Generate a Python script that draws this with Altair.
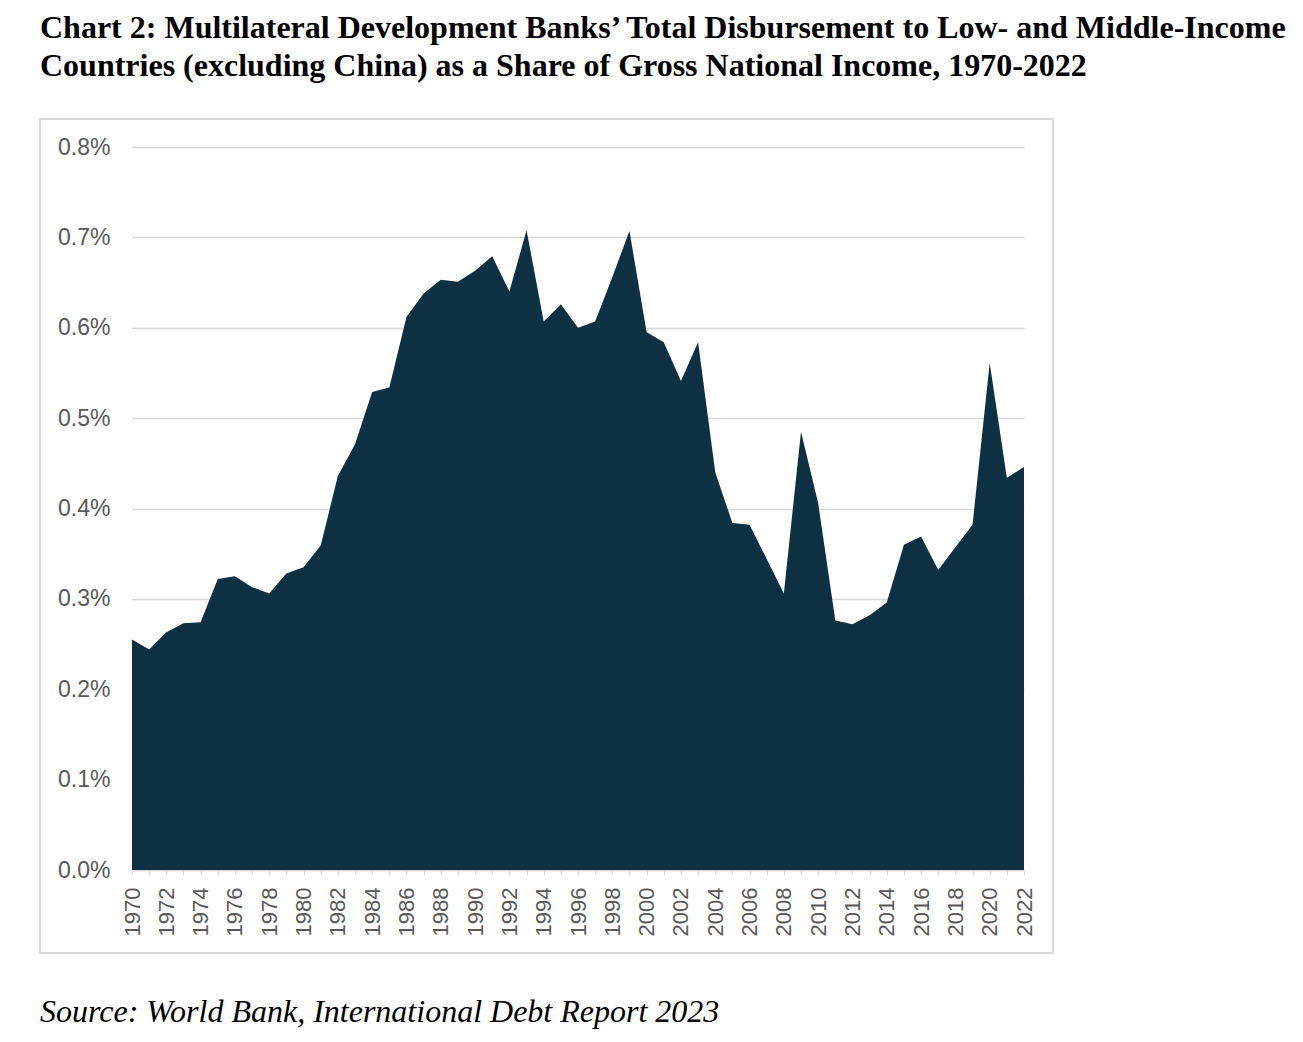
import altair as alt
import pandas as pd

years = list(range(1970, 2023))
share = [0.255, 0.244, 0.263, 0.273, 0.274, 0.322, 0.325, 0.313, 0.306, 0.328,
         0.335, 0.359, 0.436, 0.471, 0.529, 0.534, 0.612, 0.638, 0.653, 0.651,
         0.663, 0.679, 0.640, 0.708, 0.607, 0.626, 0.600, 0.607, 0.656, 0.707,
         0.595, 0.584, 0.541, 0.584, 0.440, 0.384, 0.382, 0.344, 0.306, 0.485,
         0.406, 0.276, 0.272, 0.282, 0.296, 0.360, 0.369, 0.332, 0.357, 0.382,
         0.561, 0.434, 0.446]
y_ticks = [0.0, 0.1, 0.2, 0.3, 0.4, 0.5, 0.6, 0.7, 0.8]
title_lines = [
    "Chart 2: Multilateral Development Banks\u2019 Total Disbursement to Low- and Middle-Income",
    "Countries (excluding China) as a Share of Gross National Income, 1970-2022",
]
source_text = "Source: World Bank, International Debt Report 2023"

df = pd.DataFrame({"year": years, "share": share})

area = alt.Chart(df).mark_area(color="#0d3042", opacity=1, interpolate="linear").encode(
    x=alt.X(
        "year:Q",
        scale=alt.Scale(domain=[1970, 2022], nice=False, zero=False),
        axis=alt.Axis(
            values=years,
            labelExpr="datum.value % 2 == 0 ? '' + datum.value : ''",
            labelAngle=270,
            labelAlign="right",
            labelBaseline="middle",
            labelPadding=12,
            labelOverlap=False,
            labelFont="Liberation Sans",
            labelFontSize=22,
            labelColor="#595959",
            ticks=True,
            tickSize=5,
            tickColor="#d9d9d9",
            tickWidth=1,
            domainColor="#d9d9d9",
            domainWidth=1.5,
            grid=False,
            title=None,
        ),
    ),
    y=alt.Y(
        "share:Q",
        scale=alt.Scale(domain=[0, 0.8], nice=False),
        axis=alt.Axis(
            values=y_ticks,
            labelExpr="format(datum.value, '.1f') + '%'",
            ticks=False,
            domain=False,
            grid=True,
            gridColor="#d9d9d9",
            gridWidth=1.5,
            labelPadding=22,
            labelFont="Liberation Sans",
            labelFontSize=23,
            labelColor="#595959",
            title=None,
        ),
    ),
)

frame = alt.Chart(pd.DataFrame({"a": [0]})).mark_rect(
    fillOpacity=0, stroke="#d9d9d9", strokeWidth=2
).encode(x=alt.value(-92), x2=alt.value(921), y=alt.value(-28), y2=alt.value(806))

t1 = alt.Chart(pd.DataFrame({"t": [title_lines[0]]})).mark_text(
    font="Liberation Serif", fontSize=32, fontWeight="bold", color="#000000",
    align="left", baseline="alphabetic"
).encode(text="t:N", x=alt.value(-92), y=alt.value(-109))

t2 = alt.Chart(pd.DataFrame({"t": [title_lines[1]]})).mark_text(
    font="Liberation Serif", fontSize=32, fontWeight="bold", color="#000000",
    align="left", baseline="alphabetic"
).encode(text="t:N", x=alt.value(-92), y=alt.value(-71))

src = alt.Chart(pd.DataFrame({"t": [source_text]})).mark_text(
    font="Liberation Serif", fontSize=32, fontStyle="italic", color="#000000",
    align="left", baseline="alphabetic"
).encode(text="t:N", x=alt.value(-92), y=alt.value(875))

chart = alt.layer(frame, area, t1, t2, src).properties(
    width=892,
    height=723,
    autosize=alt.AutoSizeParams(type="none"),
    padding={"left": 124, "top": 139, "right": 265, "bottom": 170},
).configure_view(strokeWidth=0)

chart.save("out.html", embed_options={"renderer": "svg", "actions": False})
